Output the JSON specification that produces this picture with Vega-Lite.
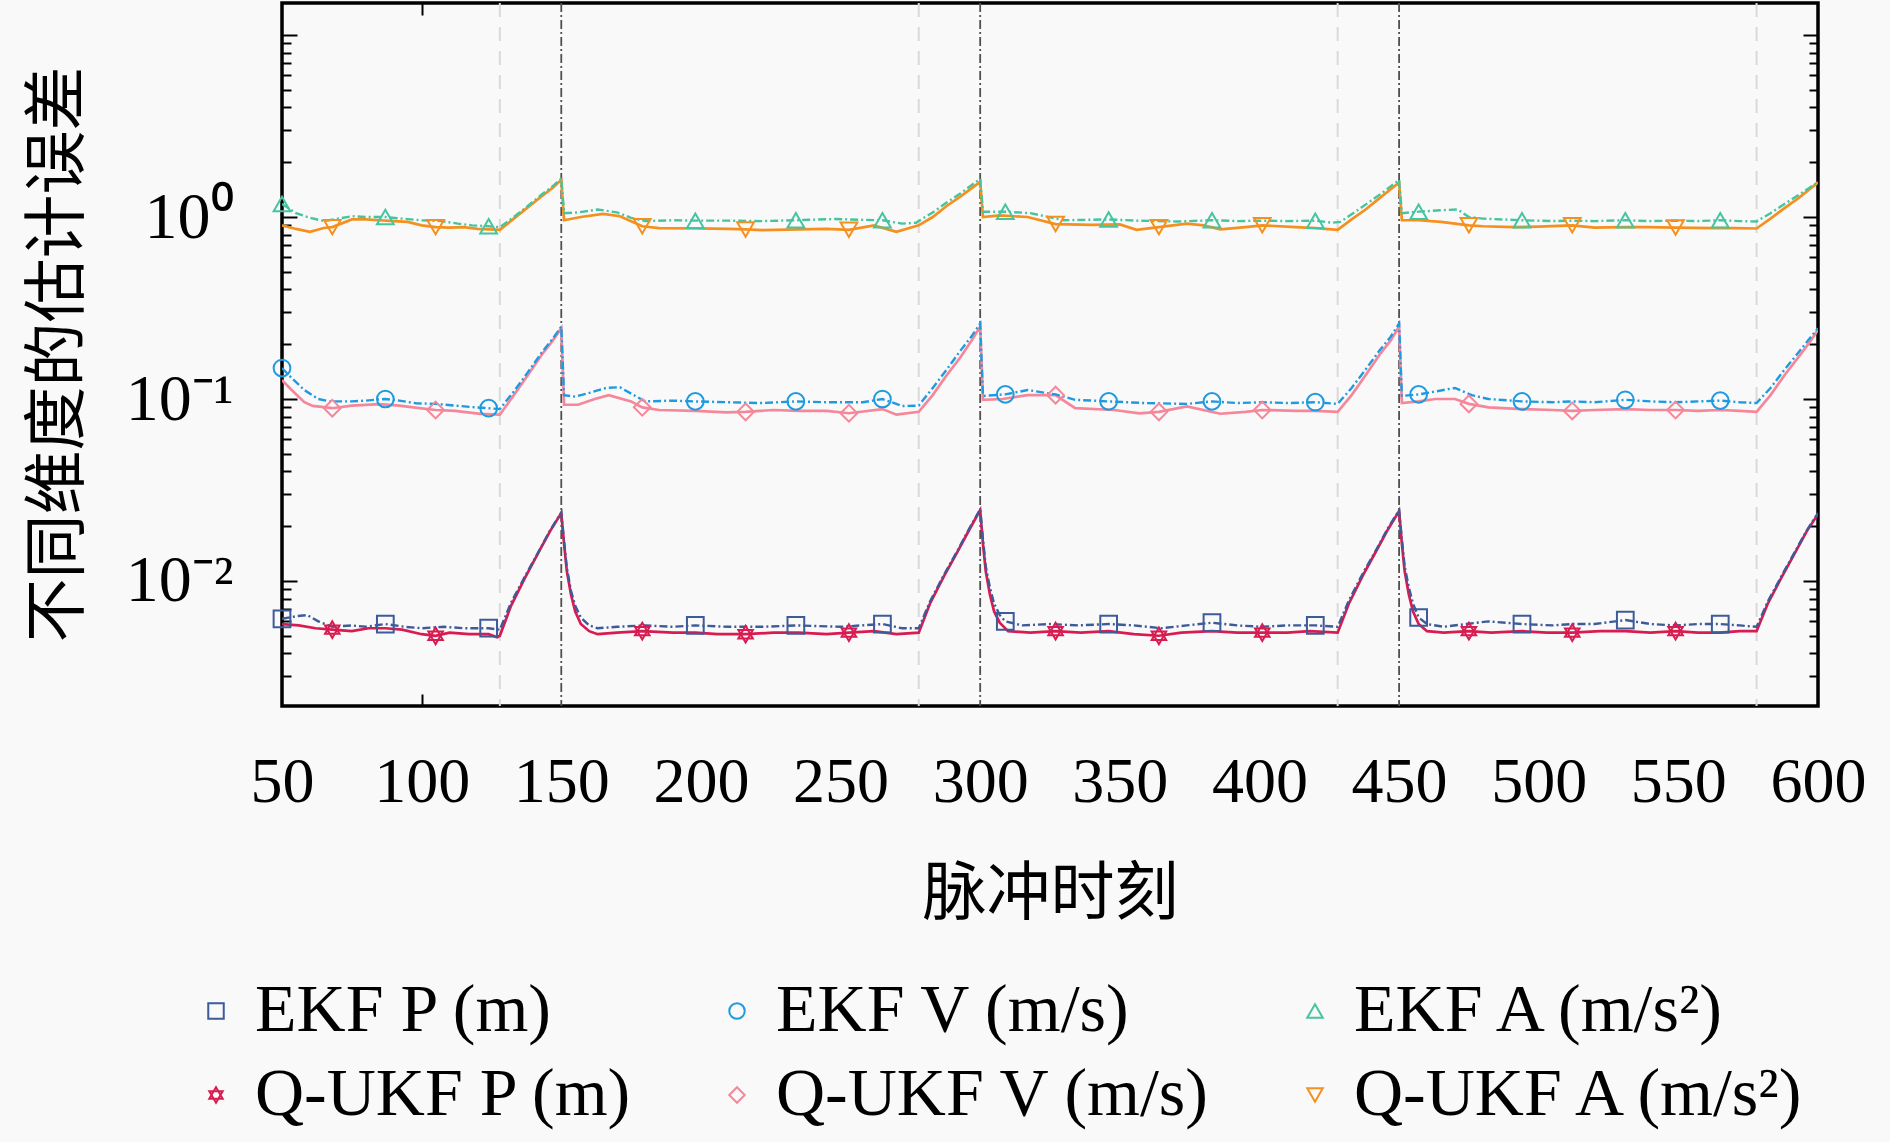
{
  "$schema": "https://vega.github.io/schema/vega-lite/v6.json",
  "width": 1536,
  "height": 703,
  "autosize": {"type": "none"},
  "padding": {"left": 282, "top": 3, "right": 72, "bottom": 436},
  "background": "#f9f9f9",
  "config": {
    "view": {"stroke": "#000000", "strokeWidth": 3.5},
    "axis": {"grid": false, "domain": false, "labelFont": "Liberation Serif", "labelColor": "#000000", "tickColor": "#000000", "tickWidth": 2, "titleColor": "#000000"},
    "legend": {"title": null, "orient": "none", "direction": "horizontal", "legendX": -100, "legendY": 974, "columns": 3, "columnPadding": 70, "rowPadding": 16,
      "labelFont": "Liberation Serif", "labelFontSize": 68, "labelColor": "#000000", "labelLimit": 0, "labelOffset": 5,
      "symbolSize": 240, "symbolStrokeWidth": 2}
  },
  "datasets": {
    "err": [
      {"s":"EKF P (m)","x":50,"y":0.0062},{"s":"EKF P (m)","x":55,"y":0.0064},{"s":"EKF P (m)","x":59,"y":0.0065},{"s":"EKF P (m)","x":63,"y":0.006},{"s":"EKF P (m)","x":68,"y":0.0056},{"s":"EKF P (m)","x":75,"y":0.0057},{"s":"EKF P (m)","x":80,"y":0.0056},{"s":"EKF P (m)","x":87,"y":0.0058},{"s":"EKF P (m)","x":94,"y":0.0056},{"s":"EKF P (m)","x":100,"y":0.0055},{"s":"EKF P (m)","x":108,"y":0.0056},{"s":"EKF P (m)","x":115,"y":0.0055},{"s":"EKF P (m)","x":124,"y":0.0055},{"s":"EKF P (m)","x":128,"y":0.0054},{"s":"EKF P (m)","x":132,"y":0.0076},{"s":"EKF P (m)","x":137,"y":0.0106},{"s":"EKF P (m)","x":142,"y":0.0146},{"s":"EKF P (m)","x":146,"y":0.019},{"s":"EKF P (m)","x":150,"y":0.0238},
      {"s":"EKF P (m)","x":151,"y":0.0165},{"s":"EKF P (m)","x":152,"y":0.0118},{"s":"EKF P (m)","x":153.5,"y":0.0088},{"s":"EKF P (m)","x":155,"y":0.0073},{"s":"EKF P (m)","x":157,"y":0.0063},{"s":"EKF P (m)","x":160,"y":0.0057},{"s":"EKF P (m)","x":163,"y":0.0055},{"s":"EKF P (m)","x":170,"y":0.0056},{"s":"EKF P (m)","x":180,"y":0.0057},{"s":"EKF P (m)","x":190,"y":0.0056},{"s":"EKF P (m)","x":198,"y":0.0057},{"s":"EKF P (m)","x":210,"y":0.0056},{"s":"EKF P (m)","x":222,"y":0.0056},{"s":"EKF P (m)","x":234,"y":0.0057},{"s":"EKF P (m)","x":250,"y":0.0056},{"s":"EKF P (m)","x":265,"y":0.0058},{"s":"EKF P (m)","x":272,"y":0.0055},{"s":"EKF P (m)","x":278,"y":0.0055},{"s":"EKF P (m)","x":282,"y":0.0077},{"s":"EKF P (m)","x":287,"y":0.0108},{"s":"EKF P (m)","x":292,"y":0.0148},{"s":"EKF P (m)","x":296,"y":0.0193},{"s":"EKF P (m)","x":300,"y":0.0248},
      {"s":"EKF P (m)","x":301,"y":0.017},{"s":"EKF P (m)","x":302,"y":0.012},{"s":"EKF P (m)","x":303.5,"y":0.0092},{"s":"EKF P (m)","x":305,"y":0.0075},{"s":"EKF P (m)","x":307,"y":0.0065},{"s":"EKF P (m)","x":309,"y":0.006},{"s":"EKF P (m)","x":315,"y":0.0057},{"s":"EKF P (m)","x":325,"y":0.0058},{"s":"EKF P (m)","x":335,"y":0.0057},{"s":"EKF P (m)","x":346,"y":0.0058},{"s":"EKF P (m)","x":355,"y":0.0057},{"s":"EKF P (m)","x":365,"y":0.0055},{"s":"EKF P (m)","x":374,"y":0.0057},{"s":"EKF P (m)","x":383,"y":0.0059},{"s":"EKF P (m)","x":392,"y":0.0057},{"s":"EKF P (m)","x":401,"y":0.0056},{"s":"EKF P (m)","x":410,"y":0.0057},{"s":"EKF P (m)","x":420,"y":0.0057},{"s":"EKF P (m)","x":428,"y":0.0056},{"s":"EKF P (m)","x":432,"y":0.0078},{"s":"EKF P (m)","x":437,"y":0.011},{"s":"EKF P (m)","x":442,"y":0.015},{"s":"EKF P (m)","x":446,"y":0.0195},{"s":"EKF P (m)","x":450,"y":0.0245},
      {"s":"EKF P (m)","x":451,"y":0.017},{"s":"EKF P (m)","x":452,"y":0.012},{"s":"EKF P (m)","x":453.5,"y":0.0092},{"s":"EKF P (m)","x":455,"y":0.0075},{"s":"EKF P (m)","x":457,"y":0.0063},{"s":"EKF P (m)","x":460,"y":0.0058},{"s":"EKF P (m)","x":466,"y":0.0056},{"s":"EKF P (m)","x":474,"y":0.0058},{"s":"EKF P (m)","x":482,"y":0.006},{"s":"EKF P (m)","x":494,"y":0.0058},{"s":"EKF P (m)","x":505,"y":0.0057},{"s":"EKF P (m)","x":512,"y":0.0058},{"s":"EKF P (m)","x":520,"y":0.0058},{"s":"EKF P (m)","x":531,"y":0.0061},{"s":"EKF P (m)","x":540,"y":0.0058},{"s":"EKF P (m)","x":549,"y":0.0057},{"s":"EKF P (m)","x":557,"y":0.0058},{"s":"EKF P (m)","x":565,"y":0.0058},{"s":"EKF P (m)","x":572,"y":0.0057},{"s":"EKF P (m)","x":578,"y":0.0056},{"s":"EKF P (m)","x":582,"y":0.0077},{"s":"EKF P (m)","x":587,"y":0.0107},{"s":"EKF P (m)","x":592,"y":0.0147},{"s":"EKF P (m)","x":596,"y":0.019},{"s":"EKF P (m)","x":600,"y":0.0236},

      {"s":"Q-UKF P (m)","x":50,"y":0.0058},{"s":"Q-UKF P (m)","x":56,"y":0.0057},{"s":"Q-UKF P (m)","x":62,"y":0.0055},{"s":"Q-UKF P (m)","x":68,"y":0.0054},{"s":"Q-UKF P (m)","x":75,"y":0.0053},{"s":"Q-UKF P (m)","x":81,"y":0.0055},{"s":"Q-UKF P (m)","x":87,"y":0.0055},{"s":"Q-UKF P (m)","x":93,"y":0.0054},{"s":"Q-UKF P (m)","x":100,"y":0.0051},{"s":"Q-UKF P (m)","x":105,"y":0.005},{"s":"Q-UKF P (m)","x":110,"y":0.0052},{"s":"Q-UKF P (m)","x":117,"y":0.0051},{"s":"Q-UKF P (m)","x":124,"y":0.0051},{"s":"Q-UKF P (m)","x":127,"y":0.0049},{"s":"Q-UKF P (m)","x":128,"y":0.005},{"s":"Q-UKF P (m)","x":132,"y":0.0073},{"s":"Q-UKF P (m)","x":137,"y":0.0104},{"s":"Q-UKF P (m)","x":142,"y":0.0145},{"s":"Q-UKF P (m)","x":146,"y":0.0188},{"s":"Q-UKF P (m)","x":150,"y":0.0236},
      {"s":"Q-UKF P (m)","x":151,"y":0.016},{"s":"Q-UKF P (m)","x":152,"y":0.0113},{"s":"Q-UKF P (m)","x":153.5,"y":0.0084},{"s":"Q-UKF P (m)","x":155,"y":0.0068},{"s":"Q-UKF P (m)","x":157,"y":0.0058},{"s":"Q-UKF P (m)","x":160,"y":0.0053},{"s":"Q-UKF P (m)","x":163,"y":0.0051},{"s":"Q-UKF P (m)","x":170,"y":0.0052},{"s":"Q-UKF P (m)","x":179,"y":0.0053},{"s":"Q-UKF P (m)","x":190,"y":0.0052},{"s":"Q-UKF P (m)","x":198,"y":0.0052},{"s":"Q-UKF P (m)","x":206,"y":0.0051},{"s":"Q-UKF P (m)","x":216,"y":0.0051},{"s":"Q-UKF P (m)","x":226,"y":0.0052},{"s":"Q-UKF P (m)","x":235,"y":0.0052},{"s":"Q-UKF P (m)","x":245,"y":0.0051},{"s":"Q-UKF P (m)","x":253,"y":0.0052},{"s":"Q-UKF P (m)","x":262,"y":0.0053},{"s":"Q-UKF P (m)","x":270,"y":0.0051},{"s":"Q-UKF P (m)","x":278,"y":0.0052},{"s":"Q-UKF P (m)","x":282,"y":0.0075},{"s":"Q-UKF P (m)","x":287,"y":0.0106},{"s":"Q-UKF P (m)","x":292,"y":0.0146},{"s":"Q-UKF P (m)","x":296,"y":0.019},{"s":"Q-UKF P (m)","x":300,"y":0.0245},
      {"s":"Q-UKF P (m)","x":301,"y":0.016},{"s":"Q-UKF P (m)","x":302,"y":0.0113},{"s":"Q-UKF P (m)","x":303.5,"y":0.0084},{"s":"Q-UKF P (m)","x":305,"y":0.0068},{"s":"Q-UKF P (m)","x":307,"y":0.0059},{"s":"Q-UKF P (m)","x":310,"y":0.0053},{"s":"Q-UKF P (m)","x":318,"y":0.0052},{"s":"Q-UKF P (m)","x":327,"y":0.0053},{"s":"Q-UKF P (m)","x":336,"y":0.0052},{"s":"Q-UKF P (m)","x":346,"y":0.0053},{"s":"Q-UKF P (m)","x":355,"y":0.0051},{"s":"Q-UKF P (m)","x":364,"y":0.005},{"s":"Q-UKF P (m)","x":372,"y":0.0052},{"s":"Q-UKF P (m)","x":383,"y":0.0053},{"s":"Q-UKF P (m)","x":392,"y":0.0052},{"s":"Q-UKF P (m)","x":401,"y":0.0052},{"s":"Q-UKF P (m)","x":410,"y":0.0052},{"s":"Q-UKF P (m)","x":418,"y":0.0053},{"s":"Q-UKF P (m)","x":428,"y":0.0052},{"s":"Q-UKF P (m)","x":432,"y":0.0075},{"s":"Q-UKF P (m)","x":437,"y":0.0107},{"s":"Q-UKF P (m)","x":442,"y":0.0148},{"s":"Q-UKF P (m)","x":446,"y":0.0192},{"s":"Q-UKF P (m)","x":450,"y":0.0242},
      {"s":"Q-UKF P (m)","x":451,"y":0.016},{"s":"Q-UKF P (m)","x":452,"y":0.0113},{"s":"Q-UKF P (m)","x":453.5,"y":0.0084},{"s":"Q-UKF P (m)","x":455,"y":0.0068},{"s":"Q-UKF P (m)","x":457,"y":0.0058},{"s":"Q-UKF P (m)","x":460,"y":0.0053},{"s":"Q-UKF P (m)","x":466,"y":0.0052},{"s":"Q-UKF P (m)","x":475,"y":0.0053},{"s":"Q-UKF P (m)","x":483,"y":0.0052},{"s":"Q-UKF P (m)","x":494,"y":0.0053},{"s":"Q-UKF P (m)","x":503,"y":0.0052},{"s":"Q-UKF P (m)","x":512,"y":0.0052},{"s":"Q-UKF P (m)","x":522,"y":0.0053},{"s":"Q-UKF P (m)","x":531,"y":0.0053},{"s":"Q-UKF P (m)","x":540,"y":0.0052},{"s":"Q-UKF P (m)","x":549,"y":0.0053},{"s":"Q-UKF P (m)","x":557,"y":0.0052},{"s":"Q-UKF P (m)","x":565,"y":0.0052},{"s":"Q-UKF P (m)","x":572,"y":0.0053},{"s":"Q-UKF P (m)","x":578,"y":0.0053},{"s":"Q-UKF P (m)","x":582,"y":0.0075},{"s":"Q-UKF P (m)","x":587,"y":0.0105},{"s":"Q-UKF P (m)","x":592,"y":0.0145},{"s":"Q-UKF P (m)","x":596,"y":0.0188},{"s":"Q-UKF P (m)","x":600,"y":0.0233},

      {"s":"EKF V (m/s)","x":50,"y":0.148},{"s":"EKF V (m/s)","x":54,"y":0.128},{"s":"EKF V (m/s)","x":58,"y":0.112},{"s":"EKF V (m/s)","x":63,"y":0.1},{"s":"EKF V (m/s)","x":67,"y":0.097},{"s":"EKF V (m/s)","x":75,"y":0.097},{"s":"EKF V (m/s)","x":80,"y":0.098},{"s":"EKF V (m/s)","x":87,"y":0.1},{"s":"EKF V (m/s)","x":92,"y":0.098},{"s":"EKF V (m/s)","x":98,"y":0.0947},{"s":"EKF V (m/s)","x":105,"y":0.094},{"s":"EKF V (m/s)","x":112,"y":0.092},{"s":"EKF V (m/s)","x":118,"y":0.0903},{"s":"EKF V (m/s)","x":124,"y":0.089},{"s":"EKF V (m/s)","x":128,"y":0.088},{"s":"EKF V (m/s)","x":133,"y":0.11},{"s":"EKF V (m/s)","x":138,"y":0.14},{"s":"EKF V (m/s)","x":143,"y":0.18},{"s":"EKF V (m/s)","x":147,"y":0.215},{"s":"EKF V (m/s)","x":150,"y":0.25},
      {"s":"EKF V (m/s)","x":151,"y":0.105},{"s":"EKF V (m/s)","x":155,"y":0.103},{"s":"EKF V (m/s)","x":160,"y":0.108},{"s":"EKF V (m/s)","x":166,"y":0.115},{"s":"EKF V (m/s)","x":171,"y":0.116},{"s":"EKF V (m/s)","x":176,"y":0.105},{"s":"EKF V (m/s)","x":180,"y":0.097},{"s":"EKF V (m/s)","x":190,"y":0.098},{"s":"EKF V (m/s)","x":198,"y":0.097},{"s":"EKF V (m/s)","x":210,"y":0.096},{"s":"EKF V (m/s)","x":222,"y":0.095},{"s":"EKF V (m/s)","x":234,"y":0.097},{"s":"EKF V (m/s)","x":245,"y":0.096},{"s":"EKF V (m/s)","x":258,"y":0.096},{"s":"EKF V (m/s)","x":265,"y":0.1},{"s":"EKF V (m/s)","x":272,"y":0.0915},{"s":"EKF V (m/s)","x":278,"y":0.092},{"s":"EKF V (m/s)","x":283,"y":0.115},{"s":"EKF V (m/s)","x":288,"y":0.145},{"s":"EKF V (m/s)","x":293,"y":0.185},{"s":"EKF V (m/s)","x":297,"y":0.222},{"s":"EKF V (m/s)","x":300,"y":0.26},
      {"s":"EKF V (m/s)","x":301,"y":0.104},{"s":"EKF V (m/s)","x":309,"y":0.106},{"s":"EKF V (m/s)","x":317,"y":0.112},{"s":"EKF V (m/s)","x":327,"y":0.106},{"s":"EKF V (m/s)","x":334,"y":0.099},{"s":"EKF V (m/s)","x":346,"y":0.097},{"s":"EKF V (m/s)","x":359,"y":0.095},{"s":"EKF V (m/s)","x":374,"y":0.094},{"s":"EKF V (m/s)","x":383,"y":0.097},{"s":"EKF V (m/s)","x":392,"y":0.095},{"s":"EKF V (m/s)","x":401,"y":0.096},{"s":"EKF V (m/s)","x":410,"y":0.095},{"s":"EKF V (m/s)","x":420,"y":0.096},{"s":"EKF V (m/s)","x":428,"y":0.094},{"s":"EKF V (m/s)","x":433,"y":0.115},{"s":"EKF V (m/s)","x":438,"y":0.145},{"s":"EKF V (m/s)","x":443,"y":0.185},{"s":"EKF V (m/s)","x":447,"y":0.22},{"s":"EKF V (m/s)","x":450,"y":0.26},
      {"s":"EKF V (m/s)","x":451,"y":0.104},{"s":"EKF V (m/s)","x":457,"y":0.106},{"s":"EKF V (m/s)","x":463,"y":0.11},{"s":"EKF V (m/s)","x":470,"y":0.115},{"s":"EKF V (m/s)","x":476,"y":0.105},{"s":"EKF V (m/s)","x":482,"y":0.1},{"s":"EKF V (m/s)","x":494,"y":0.097},{"s":"EKF V (m/s)","x":505,"y":0.096},{"s":"EKF V (m/s)","x":512,"y":0.097},{"s":"EKF V (m/s)","x":520,"y":0.096},{"s":"EKF V (m/s)","x":531,"y":0.099},{"s":"EKF V (m/s)","x":540,"y":0.097},{"s":"EKF V (m/s)","x":549,"y":0.096},{"s":"EKF V (m/s)","x":557,"y":0.097},{"s":"EKF V (m/s)","x":565,"y":0.098},{"s":"EKF V (m/s)","x":572,"y":0.096},{"s":"EKF V (m/s)","x":578,"y":0.095},{"s":"EKF V (m/s)","x":583,"y":0.115},{"s":"EKF V (m/s)","x":588,"y":0.145},{"s":"EKF V (m/s)","x":593,"y":0.18},{"s":"EKF V (m/s)","x":597,"y":0.215},{"s":"EKF V (m/s)","x":600,"y":0.245},

      {"s":"Q-UKF V (m/s)","x":50,"y":0.127},{"s":"Q-UKF V (m/s)","x":54,"y":0.11},{"s":"Q-UKF V (m/s)","x":58,"y":0.096},{"s":"Q-UKF V (m/s)","x":61,"y":0.0916},{"s":"Q-UKF V (m/s)","x":68,"y":0.089},{"s":"Q-UKF V (m/s)","x":75,"y":0.092},{"s":"Q-UKF V (m/s)","x":85,"y":0.0938},{"s":"Q-UKF V (m/s)","x":92,"y":0.092},{"s":"Q-UKF V (m/s)","x":97,"y":0.09},{"s":"Q-UKF V (m/s)","x":105,"y":0.087},{"s":"Q-UKF V (m/s)","x":112,"y":0.086},{"s":"Q-UKF V (m/s)","x":121,"y":0.0828},{"s":"Q-UKF V (m/s)","x":128,"y":0.082},{"s":"Q-UKF V (m/s)","x":133,"y":0.105},{"s":"Q-UKF V (m/s)","x":138,"y":0.135},{"s":"Q-UKF V (m/s)","x":143,"y":0.175},{"s":"Q-UKF V (m/s)","x":147,"y":0.21},{"s":"Q-UKF V (m/s)","x":150,"y":0.245},
      {"s":"Q-UKF V (m/s)","x":151,"y":0.093},{"s":"Q-UKF V (m/s)","x":156,"y":0.093},{"s":"Q-UKF V (m/s)","x":162,"y":0.1},{"s":"Q-UKF V (m/s)","x":167,"y":0.105},{"s":"Q-UKF V (m/s)","x":175,"y":0.097},{"s":"Q-UKF V (m/s)","x":179,"y":0.09},{"s":"Q-UKF V (m/s)","x":185,"y":0.087},{"s":"Q-UKF V (m/s)","x":198,"y":0.086},{"s":"Q-UKF V (m/s)","x":209,"y":0.0845},{"s":"Q-UKF V (m/s)","x":216,"y":0.085},{"s":"Q-UKF V (m/s)","x":226,"y":0.087},{"s":"Q-UKF V (m/s)","x":235,"y":0.086},{"s":"Q-UKF V (m/s)","x":245,"y":0.086},{"s":"Q-UKF V (m/s)","x":253,"y":0.0835},{"s":"Q-UKF V (m/s)","x":265,"y":0.088},{"s":"Q-UKF V (m/s)","x":270,"y":0.082},{"s":"Q-UKF V (m/s)","x":278,"y":0.085},{"s":"Q-UKF V (m/s)","x":283,"y":0.105},{"s":"Q-UKF V (m/s)","x":288,"y":0.135},{"s":"Q-UKF V (m/s)","x":293,"y":0.17},{"s":"Q-UKF V (m/s)","x":297,"y":0.21},{"s":"Q-UKF V (m/s)","x":300,"y":0.25},
      {"s":"Q-UKF V (m/s)","x":301,"y":0.099},{"s":"Q-UKF V (m/s)","x":308,"y":0.1},{"s":"Q-UKF V (m/s)","x":317,"y":0.105},{"s":"Q-UKF V (m/s)","x":327,"y":0.105},{"s":"Q-UKF V (m/s)","x":334,"y":0.089},{"s":"Q-UKF V (m/s)","x":348,"y":0.087},{"s":"Q-UKF V (m/s)","x":357,"y":0.0834},{"s":"Q-UKF V (m/s)","x":364,"y":0.085},{"s":"Q-UKF V (m/s)","x":374,"y":0.091},{"s":"Q-UKF V (m/s)","x":386,"y":0.083},{"s":"Q-UKF V (m/s)","x":395,"y":0.085},{"s":"Q-UKF V (m/s)","x":401,"y":0.087},{"s":"Q-UKF V (m/s)","x":413,"y":0.086},{"s":"Q-UKF V (m/s)","x":420,"y":0.086},{"s":"Q-UKF V (m/s)","x":428,"y":0.085},{"s":"Q-UKF V (m/s)","x":433,"y":0.105},{"s":"Q-UKF V (m/s)","x":438,"y":0.135},{"s":"Q-UKF V (m/s)","x":443,"y":0.175},{"s":"Q-UKF V (m/s)","x":447,"y":0.21},{"s":"Q-UKF V (m/s)","x":450,"y":0.25},
      {"s":"Q-UKF V (m/s)","x":451,"y":0.095},{"s":"Q-UKF V (m/s)","x":457,"y":0.097},{"s":"Q-UKF V (m/s)","x":463,"y":0.1},{"s":"Q-UKF V (m/s)","x":470,"y":0.1},{"s":"Q-UKF V (m/s)","x":475,"y":0.094},{"s":"Q-UKF V (m/s)","x":482,"y":0.09},{"s":"Q-UKF V (m/s)","x":494,"y":0.088},{"s":"Q-UKF V (m/s)","x":505,"y":0.087},{"s":"Q-UKF V (m/s)","x":512,"y":0.086},{"s":"Q-UKF V (m/s)","x":520,"y":0.087},{"s":"Q-UKF V (m/s)","x":531,"y":0.088},{"s":"Q-UKF V (m/s)","x":540,"y":0.087},{"s":"Q-UKF V (m/s)","x":549,"y":0.087},{"s":"Q-UKF V (m/s)","x":557,"y":0.086},{"s":"Q-UKF V (m/s)","x":565,"y":0.087},{"s":"Q-UKF V (m/s)","x":572,"y":0.086},{"s":"Q-UKF V (m/s)","x":578,"y":0.085},{"s":"Q-UKF V (m/s)","x":583,"y":0.105},{"s":"Q-UKF V (m/s)","x":588,"y":0.135},{"s":"Q-UKF V (m/s)","x":593,"y":0.17},{"s":"Q-UKF V (m/s)","x":597,"y":0.205},{"s":"Q-UKF V (m/s)","x":600,"y":0.24},

      {"s":"EKF A (m/s²)","x":50,"y":1.18},{"s":"EKF A (m/s²)","x":55,"y":1.05},{"s":"EKF A (m/s²)","x":60,"y":0.99},{"s":"EKF A (m/s²)","x":65,"y":0.95},{"s":"EKF A (m/s²)","x":70,"y":0.98},{"s":"EKF A (m/s²)","x":75,"y":1.01},{"s":"EKF A (m/s²)","x":80,"y":1.0},{"s":"EKF A (m/s²)","x":87,"y":1.0},{"s":"EKF A (m/s²)","x":93,"y":0.98},{"s":"EKF A (m/s²)","x":100,"y":0.96},{"s":"EKF A (m/s²)","x":107,"y":0.95},{"s":"EKF A (m/s²)","x":113,"y":0.92},{"s":"EKF A (m/s²)","x":118,"y":0.9},{"s":"EKF A (m/s²)","x":124,"y":0.89},{"s":"EKF A (m/s²)","x":128,"y":0.88},{"s":"EKF A (m/s²)","x":133,"y":1.0},{"s":"EKF A (m/s²)","x":138,"y":1.15},{"s":"EKF A (m/s²)","x":143,"y":1.33},{"s":"EKF A (m/s²)","x":147,"y":1.48},{"s":"EKF A (m/s²)","x":150,"y":1.63},
      {"s":"EKF A (m/s²)","x":151,"y":1.05},{"s":"EKF A (m/s²)","x":156,"y":1.06},{"s":"EKF A (m/s²)","x":163,"y":1.1},{"s":"EKF A (m/s²)","x":170,"y":1.06},{"s":"EKF A (m/s²)","x":175,"y":0.99},{"s":"EKF A (m/s²)","x":180,"y":0.95},{"s":"EKF A (m/s²)","x":190,"y":0.96},{"s":"EKF A (m/s²)","x":198,"y":0.955},{"s":"EKF A (m/s²)","x":210,"y":0.955},{"s":"EKF A (m/s²)","x":222,"y":0.95},{"s":"EKF A (m/s²)","x":234,"y":0.96},{"s":"EKF A (m/s²)","x":248,"y":0.975},{"s":"EKF A (m/s²)","x":258,"y":0.965},{"s":"EKF A (m/s²)","x":265,"y":0.96},{"s":"EKF A (m/s²)","x":272,"y":0.92},{"s":"EKF A (m/s²)","x":277,"y":0.93},{"s":"EKF A (m/s²)","x":283,"y":1.06},{"s":"EKF A (m/s²)","x":288,"y":1.2},{"s":"EKF A (m/s²)","x":293,"y":1.35},{"s":"EKF A (m/s²)","x":297,"y":1.5},{"s":"EKF A (m/s²)","x":300,"y":1.62},
      {"s":"EKF A (m/s²)","x":301,"y":1.07},{"s":"EKF A (m/s²)","x":309,"y":1.07},{"s":"EKF A (m/s²)","x":318,"y":1.05},{"s":"EKF A (m/s²)","x":330,"y":0.96},{"s":"EKF A (m/s²)","x":346,"y":0.97},{"s":"EKF A (m/s²)","x":356,"y":0.955},{"s":"EKF A (m/s²)","x":371,"y":0.945},{"s":"EKF A (m/s²)","x":383,"y":0.96},{"s":"EKF A (m/s²)","x":392,"y":0.95},{"s":"EKF A (m/s²)","x":401,"y":0.955},{"s":"EKF A (m/s²)","x":410,"y":0.95},{"s":"EKF A (m/s²)","x":420,"y":0.955},{"s":"EKF A (m/s²)","x":426,"y":0.93},{"s":"EKF A (m/s²)","x":429,"y":0.94},{"s":"EKF A (m/s²)","x":434,"y":1.06},{"s":"EKF A (m/s²)","x":439,"y":1.2},{"s":"EKF A (m/s²)","x":444,"y":1.36},{"s":"EKF A (m/s²)","x":450,"y":1.6},
      {"s":"EKF A (m/s²)","x":451,"y":1.05},{"s":"EKF A (m/s²)","x":457,"y":1.07},{"s":"EKF A (m/s²)","x":465,"y":1.09},{"s":"EKF A (m/s²)","x":471,"y":1.1},{"s":"EKF A (m/s²)","x":475,"y":1.0},{"s":"EKF A (m/s²)","x":480,"y":0.98},{"s":"EKF A (m/s²)","x":494,"y":0.96},{"s":"EKF A (m/s²)","x":505,"y":0.95},{"s":"EKF A (m/s²)","x":512,"y":0.955},{"s":"EKF A (m/s²)","x":520,"y":0.95},{"s":"EKF A (m/s²)","x":531,"y":0.96},{"s":"EKF A (m/s²)","x":540,"y":0.95},{"s":"EKF A (m/s²)","x":549,"y":0.955},{"s":"EKF A (m/s²)","x":557,"y":0.95},{"s":"EKF A (m/s²)","x":565,"y":0.96},{"s":"EKF A (m/s²)","x":572,"y":0.95},{"s":"EKF A (m/s²)","x":578,"y":0.945},{"s":"EKF A (m/s²)","x":583,"y":1.05},{"s":"EKF A (m/s²)","x":588,"y":1.18},{"s":"EKF A (m/s²)","x":593,"y":1.32},{"s":"EKF A (m/s²)","x":597,"y":1.45},{"s":"EKF A (m/s²)","x":600,"y":1.56},

      {"s":"Q-UKF A (m/s²)","x":50,"y":0.9},{"s":"Q-UKF A (m/s²)","x":55,"y":0.86},{"s":"Q-UKF A (m/s²)","x":60,"y":0.83},{"s":"Q-UKF A (m/s²)","x":65,"y":0.87},{"s":"Q-UKF A (m/s²)","x":68,"y":0.88},{"s":"Q-UKF A (m/s²)","x":75,"y":0.97},{"s":"Q-UKF A (m/s²)","x":80,"y":0.97},{"s":"Q-UKF A (m/s²)","x":85,"y":0.96},{"s":"Q-UKF A (m/s²)","x":90,"y":0.95},{"s":"Q-UKF A (m/s²)","x":95,"y":0.94},{"s":"Q-UKF A (m/s²)","x":100,"y":0.9},{"s":"Q-UKF A (m/s²)","x":105,"y":0.88},{"s":"Q-UKF A (m/s²)","x":110,"y":0.875},{"s":"Q-UKF A (m/s²)","x":115,"y":0.88},{"s":"Q-UKF A (m/s²)","x":120,"y":0.86},{"s":"Q-UKF A (m/s²)","x":124,"y":0.855},{"s":"Q-UKF A (m/s²)","x":128,"y":0.85},{"s":"Q-UKF A (m/s²)","x":133,"y":0.98},{"s":"Q-UKF A (m/s²)","x":138,"y":1.13},{"s":"Q-UKF A (m/s²)","x":143,"y":1.3},{"s":"Q-UKF A (m/s²)","x":147,"y":1.45},{"s":"Q-UKF A (m/s²)","x":150,"y":1.6},
      {"s":"Q-UKF A (m/s²)","x":151,"y":0.96},{"s":"Q-UKF A (m/s²)","x":157,"y":1.0},{"s":"Q-UKF A (m/s²)","x":165,"y":1.04},{"s":"Q-UKF A (m/s²)","x":171,"y":1.01},{"s":"Q-UKF A (m/s²)","x":179,"y":0.89},{"s":"Q-UKF A (m/s²)","x":185,"y":0.87},{"s":"Q-UKF A (m/s²)","x":198,"y":0.866},{"s":"Q-UKF A (m/s²)","x":210,"y":0.86},{"s":"Q-UKF A (m/s²)","x":216,"y":0.855},{"s":"Q-UKF A (m/s²)","x":222,"y":0.848},{"s":"Q-UKF A (m/s²)","x":235,"y":0.855},{"s":"Q-UKF A (m/s²)","x":245,"y":0.86},{"s":"Q-UKF A (m/s²)","x":253,"y":0.85},{"s":"Q-UKF A (m/s²)","x":262,"y":0.9},{"s":"Q-UKF A (m/s²)","x":270,"y":0.83},{"s":"Q-UKF A (m/s²)","x":278,"y":0.9},{"s":"Q-UKF A (m/s²)","x":283,"y":1.0},{"s":"Q-UKF A (m/s²)","x":288,"y":1.15},{"s":"Q-UKF A (m/s²)","x":293,"y":1.3},{"s":"Q-UKF A (m/s²)","x":297,"y":1.44},{"s":"Q-UKF A (m/s²)","x":300,"y":1.56},
      {"s":"Q-UKF A (m/s²)","x":301,"y":1.0},{"s":"Q-UKF A (m/s²)","x":307,"y":1.02},{"s":"Q-UKF A (m/s²)","x":317,"y":1.0},{"s":"Q-UKF A (m/s²)","x":327,"y":0.915},{"s":"Q-UKF A (m/s²)","x":340,"y":0.905},{"s":"Q-UKF A (m/s²)","x":350,"y":0.91},{"s":"Q-UKF A (m/s²)","x":356,"y":0.85},{"s":"Q-UKF A (m/s²)","x":364,"y":0.88},{"s":"Q-UKF A (m/s²)","x":374,"y":0.92},{"s":"Q-UKF A (m/s²)","x":380,"y":0.9},{"s":"Q-UKF A (m/s²)","x":386,"y":0.856},{"s":"Q-UKF A (m/s²)","x":395,"y":0.88},{"s":"Q-UKF A (m/s²)","x":401,"y":0.9},{"s":"Q-UKF A (m/s²)","x":413,"y":0.88},{"s":"Q-UKF A (m/s²)","x":420,"y":0.87},{"s":"Q-UKF A (m/s²)","x":428,"y":0.85},{"s":"Q-UKF A (m/s²)","x":433,"y":0.97},{"s":"Q-UKF A (m/s²)","x":438,"y":1.1},{"s":"Q-UKF A (m/s²)","x":443,"y":1.27},{"s":"Q-UKF A (m/s²)","x":447,"y":1.42},{"s":"Q-UKF A (m/s²)","x":450,"y":1.55},
      {"s":"Q-UKF A (m/s²)","x":451,"y":0.96},{"s":"Q-UKF A (m/s²)","x":457,"y":0.96},{"s":"Q-UKF A (m/s²)","x":465,"y":0.94},{"s":"Q-UKF A (m/s²)","x":475,"y":0.9},{"s":"Q-UKF A (m/s²)","x":480,"y":0.89},{"s":"Q-UKF A (m/s²)","x":491,"y":0.88},{"s":"Q-UKF A (m/s²)","x":500,"y":0.885},{"s":"Q-UKF A (m/s²)","x":512,"y":0.9},{"s":"Q-UKF A (m/s²)","x":520,"y":0.875},{"s":"Q-UKF A (m/s²)","x":530,"y":0.88},{"s":"Q-UKF A (m/s²)","x":539,"y":0.88},{"s":"Q-UKF A (m/s²)","x":549,"y":0.875},{"s":"Q-UKF A (m/s²)","x":562,"y":0.87},{"s":"Q-UKF A (m/s²)","x":570,"y":0.87},{"s":"Q-UKF A (m/s²)","x":578,"y":0.865},{"s":"Q-UKF A (m/s²)","x":583,"y":0.98},{"s":"Q-UKF A (m/s²)","x":588,"y":1.12},{"s":"Q-UKF A (m/s²)","x":593,"y":1.27},{"s":"Q-UKF A (m/s²)","x":597,"y":1.42},{"s":"Q-UKF A (m/s²)","x":600,"y":1.55}
    ]
  },
  "layer": [
    {
      "data": {"values": [{"x": 128}, {"x": 278}, {"x": 428}, {"x": 578}]},
      "mark": {"type": "rule", "color": "#d9d9d9", "strokeWidth": 2, "strokeDash": [14, 10]},
      "encoding": {"x": {"field": "x", "type": "quantitative", "scale": {"domain": [50, 600], "nice": false}, "axis": null}}
    },
    {
      "data": {"values": [{"x": 150}, {"x": 300}, {"x": 450}]},
      "mark": {"type": "rule", "color": "#505050", "strokeWidth": 1.8, "strokeDash": [9, 3, 2, 3]},
      "encoding": {"x": {"field": "x", "type": "quantitative", "axis": null}}
    },
    {
      "data": {"name": "err"},
      "transform": [{"filter": "indexof(datum.s, 'Q-UKF') == 0"}],
      "mark": {"type": "line", "strokeWidth": 2.7, "clip": true},
      "encoding": {
        "x": {"field": "x", "type": "quantitative",
          "axis": {"orient": "bottom", "values": [50,100,150,200,250,300,350,400,450,500,550,600], "labelFontSize": 64, "labelPadding": 56, "labelFlush": false, "tickSize": -12,
            "tickOpacity": {"condition": {"test": "datum.value == 100", "value": 1}, "value": 0},
            "title": "脉冲时刻", "titleFont": "Noto Sans CJK SC", "titleFontSize": 64, "titleFontWeight": "normal", "titleY": 156}},
        "y": {"field": "y", "type": "quantitative", "scale": {"type": "log", "domain": [0.002056, 15], "nice": false},
          "axis": {"orient": "left", "values": [0.003,0.004,0.005,0.006,0.007,0.008,0.009,0.01,0.02,0.03,0.04,0.05,0.06,0.07,0.08,0.09,0.1,0.2,0.3,0.4,0.5,0.6,0.7,0.8,0.9,1,2,3,4,5,6,7,8,9,10],
            "labelExpr": "datum.value == 1 ? '10⁰' : datum.value == 0.1 ? '10⁻¹' : datum.value == 0.01 ? '10⁻²' : ''",
            "labelFontSize": 66, "labelPadding": 64, "labelBaseline": "middle",
            "tickSize": {"condition": {"test": "datum.value == 1 || datum.value == 0.1 || datum.value == 0.01 || datum.value == 10", "value": -15}, "value": -9},
            "title": "不同维度的估计误差", "titleFont": "Noto Sans CJK SC", "titleFontSize": 64, "titleFontWeight": "normal", "titleX": -192, "titleY": 351}},
        "color": {"field": "s", "type": "nominal",
          "scale": {"domain": ["EKF P (m)", "EKF V (m/s)", "EKF A (m/s²)", "Q-UKF P (m)", "Q-UKF V (m/s)", "Q-UKF A (m/s²)"],
                    "range": ["#3d5a99", "#1e9be0", "#45c4a0", "#d81b50", "#f5879a", "#f5901e"]}}
      }
    },
    {
      "data": {"name": "err"},
      "transform": [{"filter": "indexof(datum.s, 'EKF') == 0"}],
      "mark": {"type": "line", "strokeWidth": 2.4, "strokeDash": [8, 3, 2, 3], "clip": true},
      "encoding": {
        "x": {"field": "x", "type": "quantitative", "axis": null},
        "y": {"field": "y", "type": "quantitative", "axis": null},
        "color": {"field": "s", "type": "nominal"}
      }
    },
    {
      "data": {"name": "err"},
      "transform": [
        {"filter": "(indexof(datum.s, 'EKF') == 0 && indexof([50,87,124,198,234,265,309,346,383,420,457,494,531,565], datum.x) >= 0) || (indexof(datum.s, 'Q-UKF') == 0 && indexof([68,105,179,216,253,327,364,401,475,512,549], datum.x) >= 0)"}
      ],
      "mark": {"type": "point", "filled": false, "strokeWidth": 2, "size": 280, "opacity": 1},
      "encoding": {
        "x": {"field": "x", "type": "quantitative",
          "axis": {"orient": "top", "values": [100], "labels": false, "tickSize": -12, "title": null}},
        "y": {"field": "y", "type": "quantitative",
          "axis": {"orient": "right", "values": [0.003,0.004,0.005,0.006,0.007,0.008,0.009,0.01,0.02,0.03,0.04,0.05,0.06,0.07,0.08,0.09,0.1,0.2,0.3,0.4,0.5,0.6,0.7,0.8,0.9,1,2,3,4,5,6,7,8,9,10],
            "labels": false, "title": null,
            "tickSize": {"condition": {"test": "datum.value == 1 || datum.value == 0.1 || datum.value == 0.01 || datum.value == 10", "value": -15}, "value": -9}}},
        "color": {"field": "s", "type": "nominal"},
        "shape": {"field": "s", "type": "nominal",
          "scale": {"domain": ["EKF P (m)", "EKF V (m/s)", "EKF A (m/s²)", "Q-UKF P (m)", "Q-UKF V (m/s)", "Q-UKF A (m/s²)"],
                    "range": ["square", "circle", "triangle-up", "M0,-1L0.866,0.5L-0.866,0.5Z M0,1L0.866,-0.5L-0.866,-0.5Z", "diamond", "triangle-down"]}}
      }
    }
  ],
  "resolve": {"axis": {"x": "independent", "y": "independent"}}
}
